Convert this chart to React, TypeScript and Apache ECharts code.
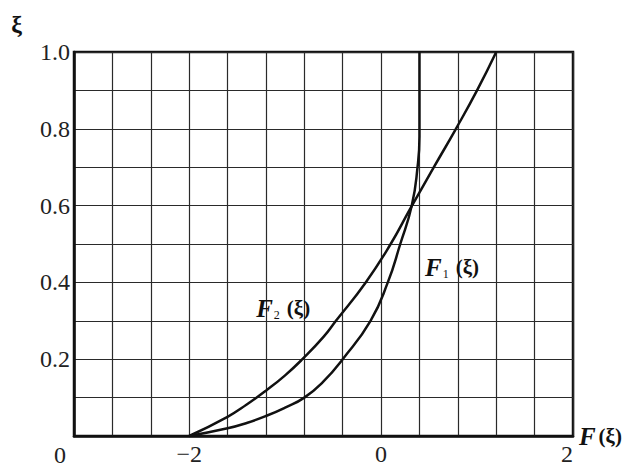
import React, { useEffect, useRef } from "react";
import * as echarts from "echarts";

// F1(ξ) curve points [F, ξ]
const f1Points: [number, number][] = [
  [-2.0, 0.0],
  [-1.6, 0.02],
  [-1.4, 0.034],
  [-1.2, 0.052],
  [-1.0, 0.074],
  [-0.8, 0.1],
  [-0.6, 0.142],
  [-0.4, 0.2],
  [-0.11, 0.3],
  [0.07, 0.4],
  [0.2, 0.5],
  [0.32, 0.6],
  [0.38, 0.7],
  [0.4, 0.78],
  [0.4, 1.0],
];

// F2(ξ) curve points [F, ξ]
const f2Points: [number, number][] = [
  [-2.0, 0.0],
  [-1.6, 0.05],
  [-1.4, 0.082],
  [-1.2, 0.118],
  [-1.0, 0.158],
  [-0.82, 0.2],
  [-0.6, 0.258],
  [-0.47, 0.3],
  [-0.16, 0.4],
  [0.1, 0.5],
  [0.3, 0.59],
  [0.55, 0.7],
  [0.78, 0.8],
  [1.0, 0.9],
  [1.2, 1.0],
];

const xTickLabels: { value: number; text: string }[] = [
  { value: -2, text: "−2" },
  { value: 0, text: "0" },
  { value: 2, text: "2" },
];
const yTickLabels: { value: number; text: string }[] = [
  { value: 0, text: "0" },
  { value: 0.2, text: "0.2" },
  { value: 0.4, text: "0.4" },
  { value: 0.6, text: "0.6" },
  { value: 0.8, text: "0.8" },
  { value: 1.0, text: "1.0" },
];

const xMin = -3.2;
const xMax = 2;
const xStep = 0.4;
const yMin = 0;
const yMax = 1;
const yStep = 0.1;

// curve label anchors [F, ξ]
const f1LabelAt: [number, number] = [0.74, 0.44];
const f2LabelAt: [number, number] = [-1.02, 0.333];

const SERIF = "'Liberation Serif', 'DejaVu Serif', serif";

const richName = {
  f: { fontFamily: SERIF, fontSize: 25, fontStyle: "italic", fontWeight: "bold", color: "#111" },
  s: { fontFamily: SERIF, fontSize: 12, color: "#111", verticalAlign: "bottom", padding: [8, 4, 0, 1] },
  p: { fontFamily: SERIF, fontSize: 21, fontWeight: "bold", color: "#111", padding: [0, 0, 0, 3] },
};

export default function App() {
  const ref = useRef<HTMLDivElement>(null);
  useEffect(() => {
    if (!ref.current) return;
    const chart = echarts.init(ref.current, undefined, { renderer: "svg" });
    const near = (a: number, b: number) => Math.abs(a - b) < 1e-6;
    chart.setOption({
      animation: false,
      backgroundColor: "#fff",
      grid: {
        left: 74,
        right: 62,
        top: 52,
        bottom: 31,
        show: true,
        borderColor: "#111",
        borderWidth: 2.5,
      },
      xAxis: {
        type: "value",
        min: xMin,
        max: xMax,
        interval: xStep,
        name: "{f|F}{p|(ξ)}",
        nameLocation: "end",
        nameGap: 2,
        nameTextStyle: { rich: richName, verticalAlign: "middle", align: "left" },
        axisLine: { show: true, onZero: false, lineStyle: { color: "#111", width: 2.5 } },
        axisTick: { show: false },
        splitLine: { show: true, lineStyle: { color: "#2a2a2a", width: 1.2 } },
        axisLabel: {
          fontFamily: SERIF,
          fontSize: 24,
          color: "#222",
          margin: 6,
          alignMaxLabel: "right",
          formatter: (v: number) => {
            const t = xTickLabels.find((d) => near(d.value, v));
            return t ? t.text : "";
          },
        },
      },
      yAxis: {
        type: "value",
        min: yMin,
        max: yMax,
        interval: yStep,
        name: "ξ",
        nameLocation: "end",
        nameGap: 16,
        nameTextStyle: {
          fontFamily: SERIF,
          fontSize: 24,
          fontWeight: "bold",
          color: "#111",
          align: "right",
          padding: [0, 52, 0, 0],
        },
        axisLine: { show: true, onZero: false, lineStyle: { color: "#111", width: 2.5 } },
        axisTick: { show: false },
        splitLine: { show: true, lineStyle: { color: "#2a2a2a", width: 1.2 } },
        axisLabel: {
          fontFamily: SERIF,
          fontSize: 24,
          color: "#222",
          margin: 4,
          formatter: (v: number) => {
            const t = yTickLabels.find((d) => near(d.value, v));
            if (!t) return "";
            return near(v, 0) ? "{z|" + t.text + "}" : t.text;
          },
          rich: {
            z: { fontFamily: SERIF, fontSize: 24, color: "#222", padding: [38, 4, 0, 0] },
          },
        },
      },
      series: [
        {
          name: "F1",
          type: "line",
          data: f1Points,
          smooth: 0.5,
          symbol: "none",
          lineStyle: { color: "#111", width: 2.5 },
          markPoint: {
            symbol: "circle",
            symbolSize: 0,
            data: [{ coord: f1LabelAt }],
            label: {
              show: true,
              position: "inside",
              formatter: "{f|F}{s|1}{p|(ξ)}",
              rich: richName,
            },
          },
        },
        {
          name: "F2",
          type: "line",
          data: f2Points,
          smooth: 0.5,
          symbol: "none",
          lineStyle: { color: "#111", width: 2.5 },
          markPoint: {
            symbol: "circle",
            symbolSize: 0,
            data: [{ coord: f2LabelAt }],
            label: {
              show: true,
              position: "inside",
              formatter: "{f|F}{s|2}{p|(ξ)}",
              rich: richName,
            },
          },
        },
      ],
    });
    return () => chart.dispose();
  }, []);
  return (
    <div
      ref={ref}
      style={{ position: "fixed", left: 0, top: 0, width: 635, height: 467 }}
    />
  );
}
